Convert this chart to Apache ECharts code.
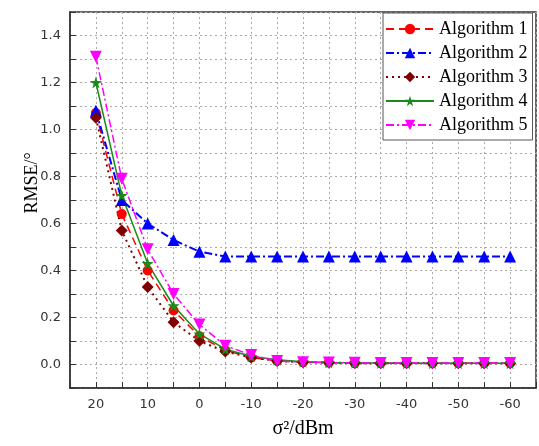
<!DOCTYPE html>
<html>
<head>
<meta charset="utf-8">
<script src="https://cdn.jsdelivr.net/npm/echarts@6/dist/echarts.min.js"></script>
<style>
  html, body { margin: 0; padding: 0; background: #fff; }
  #main { width: 539px; height: 446px; }
</style>
</head>
<body>
<div id="main"></div>
<script>
  // noise power, dBm
  var noiseLevels = [20, 15, 10, 5, 0, -5, -10, -15, -20, -25, -30, -35, -40, -45, -50, -55, -60];

  // RMSE per algorithm
  var alg1 = [1.07, 0.64, 0.40, 0.23, 0.12, 0.06, 0.03, 0.015, 0.01, 0.008, 0.006, 0.005, 0.005, 0.005, 0.005, 0.005, 0.005];
  var alg2 = [1.08, 0.70, 0.60, 0.53, 0.48, 0.46, 0.46, 0.46, 0.46, 0.46, 0.46, 0.46, 0.46, 0.46, 0.46, 0.46, 0.46];
  var alg3 = [1.05, 0.57, 0.33, 0.18, 0.10, 0.055, 0.03, 0.015, 0.01, 0.008, 0.006, 0.005, 0.005, 0.005, 0.005, 0.005, 0.005];
  var alg4 = [1.20, 0.72, 0.43, 0.25, 0.13, 0.065, 0.035, 0.02, 0.012, 0.009, 0.007, 0.006, 0.005, 0.005, 0.005, 0.005, 0.005];
  var alg5 = [1.31, 0.79, 0.49, 0.30, 0.17, 0.08, 0.04, 0.015, 0.01, 0.008, 0.007, 0.006, 0.006, 0.006, 0.006, 0.006, 0.006];

  var seriesNames = ['Algorithm 1', 'Algorithm 2', 'Algorithm 3', 'Algorithm 4', 'Algorithm 5'];

  var starPath = 'path://M50,0 L61,35 L98,35 L68,57 L79,91 L50,70 L21,91 L32,57 L2,35 L39,35 Z';

  function pairs(values) {
    return noiseLevels.map(function (x, i) { return [x, values[i]]; });
  }

  var chart = echarts.init(document.getElementById('main'));

  var option = {
    animation: false,
    backgroundColor: '#fff',
    grid: {
      left: 70, right: 1, top: 12, bottom: 58,
      show: true,
      borderColor: '#333',
      borderWidth: 1.5,
      backgroundColor: 'transparent'
    },
    legend: {
      left: 383,
      top: 13,
      orient: 'vertical',
      data: seriesNames,
      itemWidth: 48,
      itemHeight: 13,
      itemGap: 6,
      padding: [7, 5, 6, 2],
      backgroundColor: '#fff',
      borderColor: '#555',
      borderWidth: 1,
      borderRadius: 0,
      textStyle: {
        fontFamily: '"Liberation Serif", "Times New Roman", serif',
        fontSize: 18,
        lineHeight: 18,
        color: '#000'
      }
    },
    xAxis: {
      type: 'value',
      inverse: true,
      min: -65,
      max: 25,
      interval: 5,
      name: 'σ²/dBm',
      nameLocation: 'middle',
      nameGap: 31,
      nameTextStyle: {
        fontFamily: '"Liberation Serif", "Times New Roman", serif',
        fontSize: 20,
        color: '#000'
      },
      axisLine: { onZero: false, lineStyle: { color: '#333', width: 1.5 } },
      axisTick: { inside: true, length: 6, lineStyle: { color: '#333', width: 1 } },
      axisLabel: {
        margin: 10,
        fontFamily: '"DejaVu Sans", sans-serif',
        fontSize: 13,
        color: '#333',
        formatter: function (v) {
          return (v % 10 === 0 && v <= 20 && v >= -60) ? String(v) : '';
        }
      },
      splitLine: { show: true, lineStyle: { color: '#aaa', type: [2, 3], width: 1 } }
    },
    yAxis: {
      type: 'value',
      min: -0.1,
      max: 1.5,
      interval: 0.1,
      axisLine: { show: true, onZero: false, lineStyle: { color: '#333', width: 1.5 } },
      axisTick: { show: true, inside: true, length: 6, lineStyle: { color: '#333', width: 1 } },
      axisLabel: {
        margin: 9,
        fontFamily: '"DejaVu Sans", sans-serif',
        fontSize: 13,
        color: '#333',
        formatter: function (v) {
          var k = Math.round(v * 10);
          return (k >= 0 && k <= 14 && k % 2 === 0) ? (k / 10).toFixed(1) : '';
        }
      },
      splitLine: { show: true, lineStyle: { color: '#aaa', type: [2, 3], width: 1 } }
    },
    graphic: [{
      type: 'text',
      x: 32,
      y: 183,
      rotation: Math.PI / 2,
      style: {
        text: 'RMSE/°',
        fontFamily: '"Liberation Serif", "Times New Roman", serif',
        fontSize: 18,
        fill: '#000',
        align: 'center',
        verticalAlign: 'middle'
      }
    }],
    series: [
      {
        name: seriesNames[0],
        type: 'line',
        data: pairs(alg1),
        symbol: 'circle',
        symbolSize: 10,
        itemStyle: { color: '#ff0000' },
        lineStyle: { color: '#ff0000', width: 1.5, type: [8, 5] }
      },
      {
        name: seriesNames[1],
        type: 'line',
        data: pairs(alg2),
        symbol: 'triangle',
        symbolSize: 12,
        itemStyle: { color: '#0000ff' },
        lineStyle: { color: '#0000ff', width: 2, type: [8, 3, 2, 3] }
      },
      {
        name: seriesNames[2],
        type: 'line',
        data: pairs(alg3),
        symbol: 'diamond',
        symbolSize: 12,
        itemStyle: { color: '#800000' },
        lineStyle: { color: '#800000', width: 2, type: [2, 4] }
      },
      {
        name: seriesNames[3],
        type: 'line',
        data: pairs(alg4),
        symbol: starPath,
        symbolSize: 12,
        itemStyle: { color: '#1a8a1a' },
        lineStyle: { color: '#1a8a1a', width: 1.5, type: 'solid' }
      },
      {
        name: seriesNames[4],
        type: 'line',
        data: pairs(alg5),
        symbol: 'triangle',
        symbolRotate: 180,
        symbolSize: 12,
        itemStyle: { color: '#ff00ff' },
        lineStyle: { color: '#ff00ff', width: 1.5, type: [8, 3, 2, 3] }
      }
    ]
  };

  chart.setOption(option);
</script>
</body>
</html>
